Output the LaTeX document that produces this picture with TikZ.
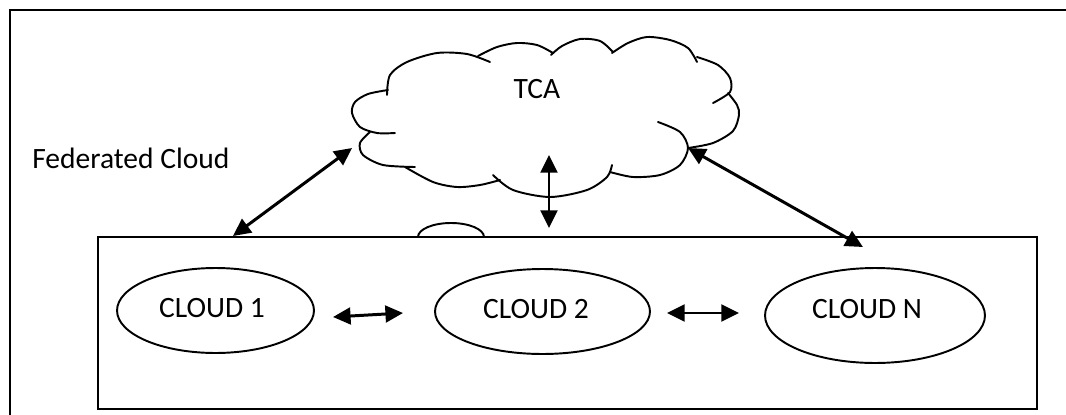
\documentclass[tikz,border=0pt]{standalone}
\usepackage{fontspec}
\setmainfont{Carlito}
\usetikzlibrary{arrows.meta,shapes.geometric}

\tikzset{
  frame/.style={draw=black, line width=1.1pt},
  cloudline/.style={draw=black, line width=1.1pt, line cap=round},
  member/.style={draw=black, line width=1.1pt, ellipse, inner sep=0pt},
  label/.style={font=\fontsize{16.8}{20}\selectfont, inner sep=0pt},
  biarrow/.style={line width=1.7pt,
    {Triangle[length=10pt,width=9.5pt]}-{Triangle[length=10pt,width=9.5pt]}},
}

\begin{document}
\begin{tikzpicture}[x=0.02cm, y=0.02cm]
  \useasboundingbox (0,0) rectangle (1066,414);

  % outer frame (only its left and top sides fall inside the page)
  \draw[frame] (10,-5) -- (10,404) -- (1066,404);

  \node[label, anchor=base west] (fedlabel) at (32,246) {Federated Cloud};

  % federation box
  \node[frame, minimum width=18.78cm, minimum height=3.44cm, inner sep=0pt]
    (fed) at (567.5,91) {};
  % small bump on its top edge
  \draw[cloudline] (418,177) arc[start angle=180, end angle=0,
    x radius=33, y radius=14];

  % member clouds
  \node[member, minimum width=3.94cm, minimum height=1.70cm] (c1) at (215.5,103.5) {};
  \node[member, minimum width=4.30cm, minimum height=1.70cm] (c2) at (542.5,102.5) {};
  \node[member, minimum width=4.40cm, minimum height=1.90cm] (cN) at (875,98.5) {};
  \node[label, anchor=base] (t1) at (212,97) {CLOUD 1};
  \node[label, anchor=base] (t2) at (536,96) {CLOUD 2};
  \node[label, anchor=base] (tN) at (867,96) {CLOUD N};

  % TCA cloud, drawn lobe by lobe
  \begin{scope}[cloudline]
    \draw plot[smooth] coordinates {(387,319) (390,339) (407,352) (437,361) (467,360) (490,352)};
    \draw plot[smooth] coordinates {(478,358) (497,367) (517,371) (537,369) (553,361)};
    \draw plot[smooth] coordinates {(551,359) (562,368) (580,375) (600,373) (613,362)};
    \draw plot[smooth] coordinates {(612,361) (628,371) (647,377) (670,374) (688,366) (697,352)};
    \draw plot[smooth] coordinates {(697,357) (718,349) (730,336) (730,322) (713,311)};
    \draw plot[smooth] coordinates {(728,321) (737,309) (739,299) (733,283) (713,271) (688,266)};
    \draw plot[smooth] coordinates {(658,292) (680,282) (688,266) (680,249) (660,239) (633,237) (610,242)};
    \draw plot[smooth] coordinates {(493,239) (513,224) (550,217) (587,224) (607,237) (612,249)};
    \draw plot[smooth] coordinates {(405,247) (433,232) (457,227) (480,229) (500,234)};
    \draw plot[smooth] coordinates {(370,282) (360,271) (363,259) (383,249) (415,247)};
    \draw plot[smooth] coordinates {(388,324) (368,320) (355,312) (352,301) (360,287) (377,281) (395,281)};
  \end{scope}
  \node[label, anchor=base] (tca) at (537,316) {TCA};

  % connector end points
  \coordinate (tcaL) at (352,266);
  \coordinate (tcaB) at (549,259);
  \coordinate (tcaR) at (688,266);
  \coordinate (fedL) at (233,178);
  \coordinate (fedM) at (549,186);
  \coordinate (fedR) at (863,167);
  \coordinate (c1r) at (333,97);
  \coordinate (c2l) at (403,101);
  \coordinate (c2r) at (667,101);
  \coordinate (cNl) at (739,101);

  % links
  \draw[biarrow] (fedL) -- (tcaL);
  \draw[biarrow] (fedM) -- (tcaB);
  \draw[biarrow] (tcaR) -- (fedR);
  \draw[biarrow] (c1r) -- (c2l);
  \draw[biarrow] (c2r) -- (cNl);
\end{tikzpicture}
\end{document}
